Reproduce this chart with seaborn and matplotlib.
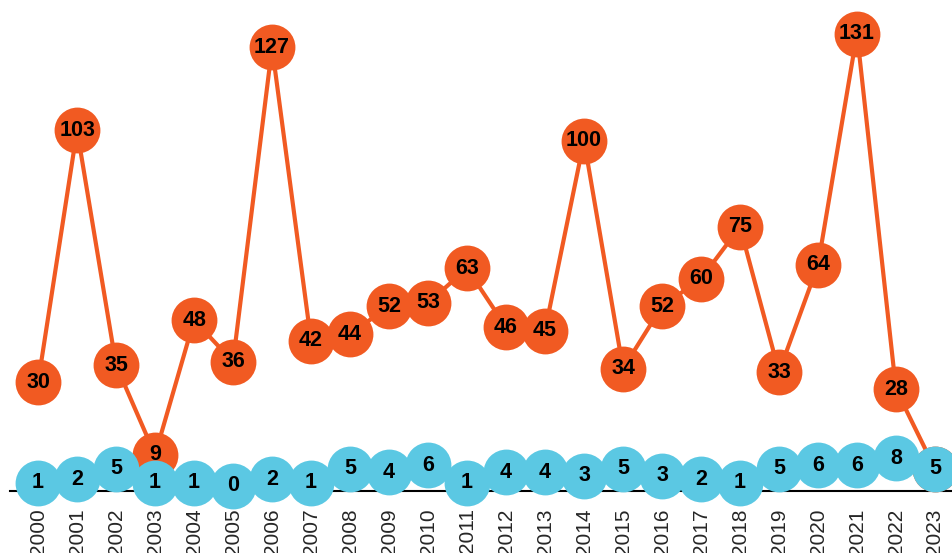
import pandas as pd
import matplotlib.pyplot as plt
import seaborn as sns

years = list(range(2000, 2024))
orange_vals = [30, 103, 35, 9, 48, 36, 127, 42, 44, 52, 53, 63,
               46, 45, 100, 34, 52, 60, 75, 33, 64, 131, 28, 5]
blue_vals = [1, 2, 5, 1, 1, 0, 2, 1, 5, 4, 6, 1,
             4, 4, 3, 5, 3, 2, 1, 5, 6, 6, 8, 5]

orange = '#F15A22'
blue = '#5BC8E3'

df = pd.DataFrame({'year': years, 'orange': orange_vals, 'blue': blue_vals})

sns.set_style('white')
plt.rcParams['font.family'] = ['Liberation Sans', 'DejaVu Sans']

fig = plt.figure(figsize=(9.52, 5.53), dpi=100)
ax = fig.add_axes([10 / 952, 1 - 491 / 553, 942 / 952, 491 / 553])

sns.lineplot(data=df, x='year', y='orange', ax=ax, color=orange, linewidth=3,
             marker='o', markersize=33, markeredgewidth=0, zorder=2)
sns.lineplot(data=df, x='year', y='blue', ax=ax, color=blue, linewidth=3,
             marker='o', markersize=33, markeredgewidth=0, zorder=4)
for ln in ax.lines:
    ln.set_clip_on(False)

# value labels inside the dots
for x, v in zip(years, orange_vals):
    ax.text(x, v, str(v), ha='center', va='center', fontsize=15.5,
            fontweight='bold', color='black', zorder=3)
for x, v in zip(years, blue_vals):
    ax.text(x, v, str(v), ha='center', va='center', fontsize=15.5,
            fontweight='bold', color='black', zorder=5)

ax.set_xlim(1999.28, 2023.436)
ax.set_ylim(-1.45, 140.7)
ax.set_xticks(years)
ax.set_xticklabels([str(y) for y in years], rotation=90, fontsize=15)
ax.tick_params(axis='x', length=0, pad=12.5)
ax.set_yticks([])
ax.set_xlabel('')
ax.set_ylabel('')
for s in ['top', 'right', 'left']:
    ax.spines[s].set_visible(False)
ax.spines['bottom'].set_color('black')
ax.spines['bottom'].set_linewidth(1.5)
ax.spines['bottom'].set_zorder(1)
ax.patch.set_alpha(0)

fig.savefig('out.png', dpi=100)
